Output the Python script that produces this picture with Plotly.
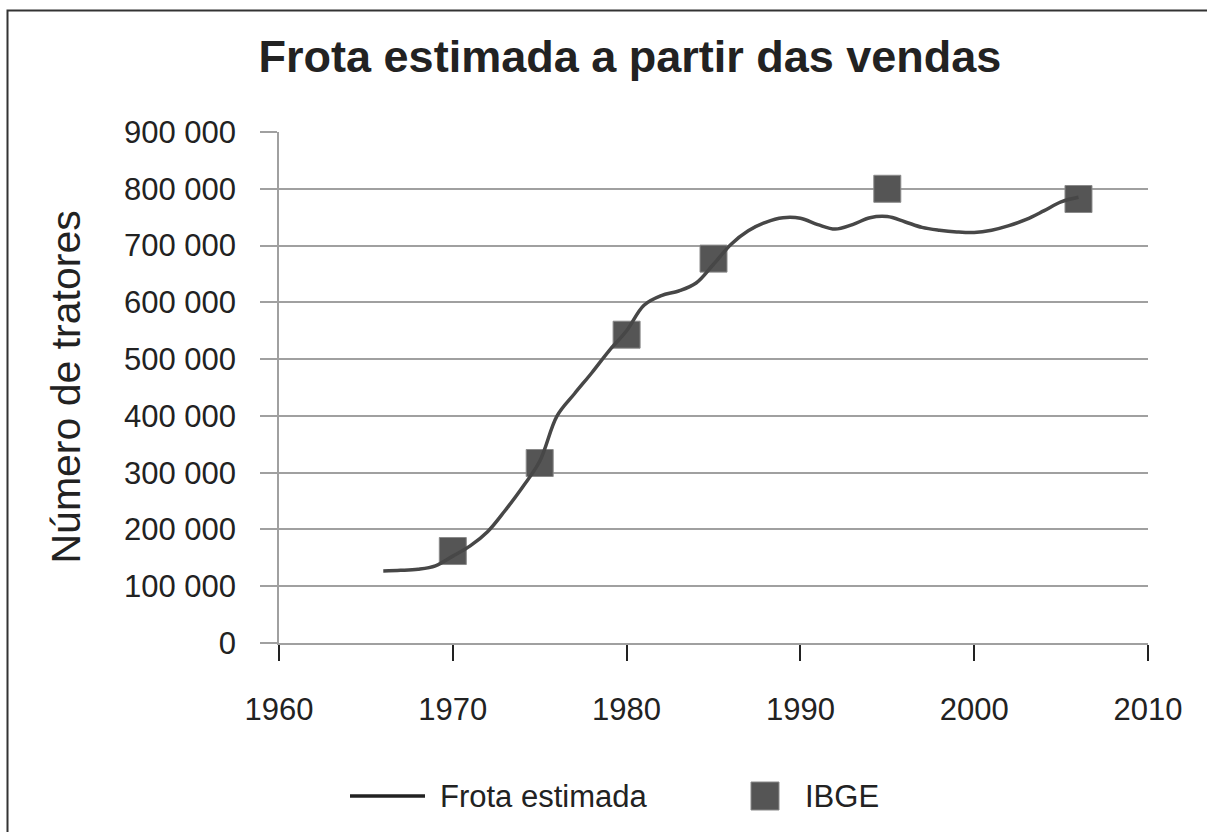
import plotly.graph_objects as go

# Estimated fleet (smoothed line)
frota_anos = [1966, 1967, 1968, 1969, 1970, 1971, 1972, 1973, 1974, 1975,
              1976, 1977, 1978, 1979, 1980, 1981, 1982, 1983, 1984, 1985,
              1986, 1987, 1988, 1989, 1990, 1991, 1992, 1993, 1994, 1995,
              1996, 1997, 1998, 1999, 2000, 2001, 2002, 2003, 2004, 2005, 2006]
frota_valores = [127000, 128000, 130000, 136000, 153000, 171000, 196000, 233000, 274000, 320000,
                 400000, 439000, 476000, 515000, 550000, 595000, 612000, 620000, 634000, 667000,
                 702000, 726000, 741000, 749000, 748000, 737000, 729000, 737000, 749000, 751000,
                 742000, 732000, 727000, 724000, 723000, 727000, 735000, 746000, 761000, 777000, 785000]

# IBGE census points
ibge_anos = [1970, 1975, 1980, 1985, 1995, 2006]
ibge_valores = [162000, 317000, 543000, 677000, 800000, 782000]

y_ticks = [0, 100000, 200000, 300000, 400000, 500000, 600000, 700000, 800000, 900000]
y_tick_labels = ["0", "100 000", "200 000", "300 000", "400 000", "500 000",
                 "600 000", "700 000", "800 000", "900 000"]
x_ticks = [1960, 1970, 1980, 1990, 2000, 2010]

FONT = "Liberation Sans, Arial, sans-serif"
W, H = 1207, 832
L, R, T, B = 279, 59, 132, 189
pw = W - L - R
ph = H - T - B


def px_x(px):
    return (px - L) / pw


def px_y(py):
    return (H - B - py) / ph


LINE_COLOR = "#474747"
SQ_COLOR = "#555555"

fig = go.Figure()
fig.add_trace(go.Scatter(
    x=ibge_anos, y=ibge_valores, mode="markers", name="IBGE", showlegend=False,
    marker=dict(symbol="square", size=27, color=SQ_COLOR,
                line=dict(color="#8a8a8a", width=1)),
))
fig.add_trace(go.Scatter(
    x=frota_anos, y=frota_valores, mode="lines", name="Frota estimada", showlegend=False,
    line=dict(color=LINE_COLOR, width=3.5, shape="spline", smoothing=1.0),
))

LEG_Y = 796
shapes = [
    # outer frame
    dict(type="rect", xref="paper", yref="paper",
         x0=px_x(7.5), x1=px_x(W + 20), y0=px_y(H + 20), y1=px_y(10.5),
         line=dict(color="#333333", width=2), fillcolor="rgba(0,0,0,0)", layer="below"),
    # legend: line sample
    dict(type="line", xref="paper", yref="paper",
         x0=px_x(350), x1=px_x(425), y0=px_y(LEG_Y), y1=px_y(LEG_Y),
         line=dict(color="#222222", width=3.5)),
    # legend: square sample
    dict(type="rect", xref="paper", yref="paper",
         x0=px_x(751), x1=px_x(779), y0=px_y(LEG_Y + 14), y1=px_y(LEG_Y - 14),
         line=dict(color="#8a8a8a", width=1), fillcolor=SQ_COLOR),
]

annotations = [
    dict(text="Número de tratores", textangle=-90,
         xref="paper", yref="paper", x=px_x(65), y=0.5,
         xanchor="center", yanchor="middle", showarrow=False,
         font=dict(family=FONT, size=41, color="#222222")),
    dict(text="Frota estimada", xref="paper", yref="paper",
         x=px_x(438), y=px_y(LEG_Y), xanchor="left", yanchor="middle",
         showarrow=False, font=dict(family=FONT, size=31, color="#222222")),
    dict(text="IBGE", xref="paper", yref="paper",
         x=px_x(803), y=px_y(LEG_Y), xanchor="left", yanchor="middle",
         showarrow=False, font=dict(family=FONT, size=31, color="#222222")),
]

fig.update_layout(
    width=W, height=H,
    margin=dict(l=L, r=R, t=T, b=B, autoexpand=False),
    paper_bgcolor="white", plot_bgcolor="white",
    font=dict(family=FONT, color="#222222", size=30),
    title=dict(text="<b>Frota estimada a partir das vendas</b>",
               font=dict(family=FONT, size=45, color="#222222"),
               x=630 / W, xref="container", xanchor="center",
               y=1 - 56 / H, yref="container", yanchor="middle"),
    showlegend=False,
    xaxis=dict(range=[1960, 2010], tickvals=x_ticks,
               ticktext=[str(v) for v in x_ticks],
               showgrid=False, zeroline=False,
               showline=True, linecolor="#a0a0a0", linewidth=1.5,
               ticks="outside", ticklen=16, tickcolor="#222222", tickwidth=1.5,
               ticklabelstandoff=22,
               tickfont=dict(family=FONT, size=31, color="#222222")),
    yaxis=dict(range=[0, 900000], tickvals=y_ticks, ticktext=y_tick_labels,
               showgrid=True, gridcolor="#a0a0a0", gridwidth=1.5,
               zeroline=False,
               showline=True, linecolor="#a0a0a0", linewidth=1.5,
               ticks="outside", ticklen=17, tickcolor="#a0a0a0", tickwidth=1.5,
               ticklabelstandoff=18,
               tickfont=dict(family=FONT, size=31, color="#222222")),
    annotations=annotations,
    shapes=shapes,
)

fig.write_html("out.html", config={"displayModeBar": False},
               post_script="document.body.style.margin='0';")
